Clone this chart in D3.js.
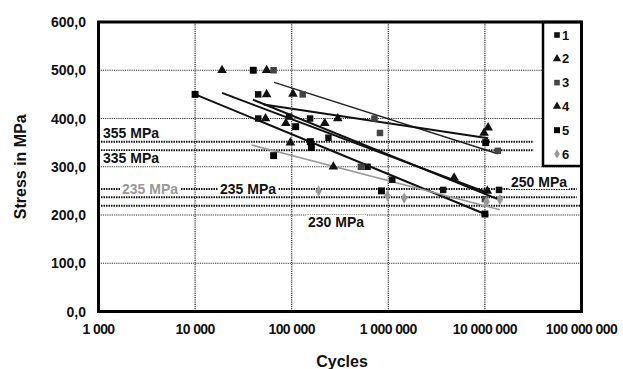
<!DOCTYPE html>
<html>
<head>
<meta charset="utf-8">
<script src="https://cdn.jsdelivr.net/npm/d3@7"></script>
<style>
  body { margin: 0; background: #fff; }
  svg { display: block; font-family: "Liberation Sans", Arial, sans-serif; font-weight: bold; }
</style>
</head>
<body>
<svg id="chart" width="623" height="369"></svg>
<script>
// axis ticks
const xTicks = [1e3, 1e4, 1e5, 1e6, 1e7, 1e8];
const yTicks = [0, 100, 200, 300, 400, 500, 600];

// test points [cycles, stress]
const series1 = [[45000, 450], [45000, 400], [94000, 404], [155000, 400], [240000, 360], [610000, 300], [1100000, 273], [3700000, 252], [14000000, 252]];
const series2 = [[19000, 500], [55000, 450], [53600, 400], [97000, 350], [270000, 300], [4800000, 277], [10600000, 250]];
const series3 = [[65000, 500], [130000, 450], [720000, 400], [820000, 370], [520000, 300], [13600000, 333], [10000000, 233]];
const series4 = [[55000, 500], [87000, 390], [103000, 451], [220000, 390], [300000, 400], [9800000, 370], [10800000, 381]];
const series5 = [[10000, 450], [40000, 500], [65000, 323], [110000, 383], [156000, 352], [160000, 340], [850000, 250], [10000000, 202], [10200000, 350]];
const series6 = [[190000, 250], [980000, 240], [1460000, 235], [14300000, 232], [10400000, 228]];

// trend lines [start, end]
const trend1 = [[39600, 439], [14000000, 232]];
const trend2 = [[19000, 453], [10600000, 246]];
const trend3 = [[65800, 475], [13600000, 327]];
const trend4 = [[51400, 429], [10800000, 359]];
const trend5 = [[10000, 450], [10000000, 202]];
const trend6 = [[38500, 345], [14300000, 211]];

// fatigue limit lines
const limitValues = [352, 334, 254, 237, 219];
const limitEnds = [32000000, 32000000, 89000000, 89000000, 100000000];

const svg = d3.select('#chart');
const margin = { top: 22, right: 41.5, bottom: 57.5, left: 98.5 };
const W = 623, H = 369;

const x = d3.scaleLog().domain([1e3, 1e8]).range([margin.left, W - margin.right]);
const y = d3.scaleLinear().domain([0, 600]).range([H - margin.bottom, margin.top]);

// grid
svg.append('g').selectAll('line').data(yTicks.slice(1, -1)).enter().append('line')
  .attr('x1', x(1e3)).attr('x2', x(1e8))
  .attr('y1', d => y(d)).attr('y2', d => y(d))
  .attr('stroke', '#333').attr('stroke-width', 1.2).attr('stroke-dasharray', '1.2,1');
svg.append('g').selectAll('line').data(xTicks.slice(1, -1)).enter().append('line')
  .attr('x1', d => x(d)).attr('x2', d => x(d))
  .attr('y1', y(0)).attr('y2', y(600))
  .attr('stroke', '#333').attr('stroke-width', 1.2).attr('stroke-dasharray', '1.2,1');

// limit lines
svg.append('g').selectAll('line').data(limitValues).enter().append('line')
  .attr('x1', x(1e3)).attr('x2', (d, i) => x(limitEnds[i]))
  .attr('y1', d => y(d)).attr('y2', d => y(d))
  .attr('stroke', '#111').attr('stroke-width', 2).attr('stroke-dasharray', '1.5,1');

// limit labels with white backing
function label(text, lx, ly, color) {
  const t = svg.append('text').attr('x', lx).attr('y', ly)
    .attr('font-size', 14).attr('fill', color).attr('dominant-baseline', 'central').text(text);
  const b = t.node().getBBox();
  svg.insert('rect', 'text').attr('x', b.x - 2).attr('y', b.y + 1).attr('width', b.width + 4).attr('height', b.height - 2).attr('fill', '#fff');
}

// trend lines
const trends = [
  { d: trend1, c: '#111', w: 2 },
  { d: trend2, c: '#111', w: 2 },
  { d: trend3, c: '#222', w: 1.4 },
  { d: trend4, c: '#111', w: 2 },
  { d: trend5, c: '#111', w: 2 },
  { d: trend6, c: '#999', w: 1.6 }
];
const line = d3.line().x(d => x(d[0])).y(d => y(d[1]));
trends.forEach(t => {
  svg.append('path').datum(t.d).attr('d', line)
    .attr('fill', 'none').attr('stroke', t.c).attr('stroke-width', t.w);
});

// points
const series = [
  { name: '1', d: series1, s: d3.symbolSquare, c: '#111', size: 42 },
  { name: '2', d: series2, s: d3.symbolTriangle, c: '#111', size: 40 },
  { name: '3', d: series3, s: d3.symbolSquare, c: '#444', size: 42 },
  { name: '4', d: series4, s: d3.symbolTriangle, c: '#111', size: 40 },
  { name: '5', d: series5, s: d3.symbolSquare, c: '#000', size: 48 },
  { name: '6', d: series6, s: d3.symbolDiamond, c: '#999', size: 36 }
];
series.forEach(sr => {
  svg.append('g').selectAll('path').data(sr.d).enter().append('path')
    .attr('d', d3.symbol().type(sr.s).size(sr.size))
    .attr('transform', d => `translate(${x(d[0])},${y(d[1])})`)
    .attr('fill', sr.c);
});

label('355 MPa', 103, 133, '#111');
label('335 MPa', 103, 158, '#111');
label('235 MPa', 122, y(254), '#999');
label('235 MPa', 220, y(254), '#111');
label('250 MPa', 511, 182, '#111');
label('230 MPa', 308, 222, '#111');

// legend
const lg = svg.append('g');
lg.append('rect').attr('x', 543).attr('y', y(600)).attr('width', x(1e8) - 543).attr('height', 144)
  .attr('fill', '#fff').attr('stroke', '#000').attr('stroke-width', 2.5);
series.forEach((sr, i) => {
  const ly = 35 + i * 23.8;
  lg.append('path').attr('d', d3.symbol().type(sr.s).size(sr.size * 0.75))
    .attr('transform', `translate(557,${ly})`).attr('fill', sr.c);
  lg.append('text').attr('x', 562).attr('y', ly).attr('dominant-baseline', 'central')
    .attr('font-size', 13).attr('fill', '#111').text(sr.name);
});

// frame
svg.append('rect').attr('x', x(1e3)).attr('y', y(600))
  .attr('width', x(1e8) - x(1e3)).attr('height', y(0) - y(600))
  .attr('fill', 'none').attr('stroke', '#000').attr('stroke-width', 3);

// axes labels
const fmtX = d => d3.format(',')(d).replace(/,/g, ' ');
svg.append('g').selectAll('text').data(xTicks).enter().append('text')
  .attr('x', d => x(d)).attr('y', 329).attr('text-anchor', 'middle').attr('dominant-baseline', 'central')
  .attr('font-size', 14).attr('fill', '#111').attr('letter-spacing', -0.6).text(fmtX);
svg.append('g').selectAll('text').data(yTicks).enter().append('text')
  .attr('x', 86).attr('y', d => y(d)).attr('text-anchor', 'end').attr('dominant-baseline', 'central')
  .attr('font-size', 14).attr('fill', '#111').text(d => d3.format('.1f')(d).replace('.', ','));

svg.append('text').attr('x', 342).attr('y', 361).attr('text-anchor', 'middle').attr('dominant-baseline', 'central')
  .attr('font-size', 16).attr('fill', '#111').text('Cycles');
svg.append('text').attr('transform', `translate(20,${(y(0) + y(600)) / 2}) rotate(-90)`)
  .attr('text-anchor', 'middle').attr('dominant-baseline', 'central')
  .attr('font-size', 16).attr('fill', '#111').text('Stress in MPa');
</script>
</body>
</html>
